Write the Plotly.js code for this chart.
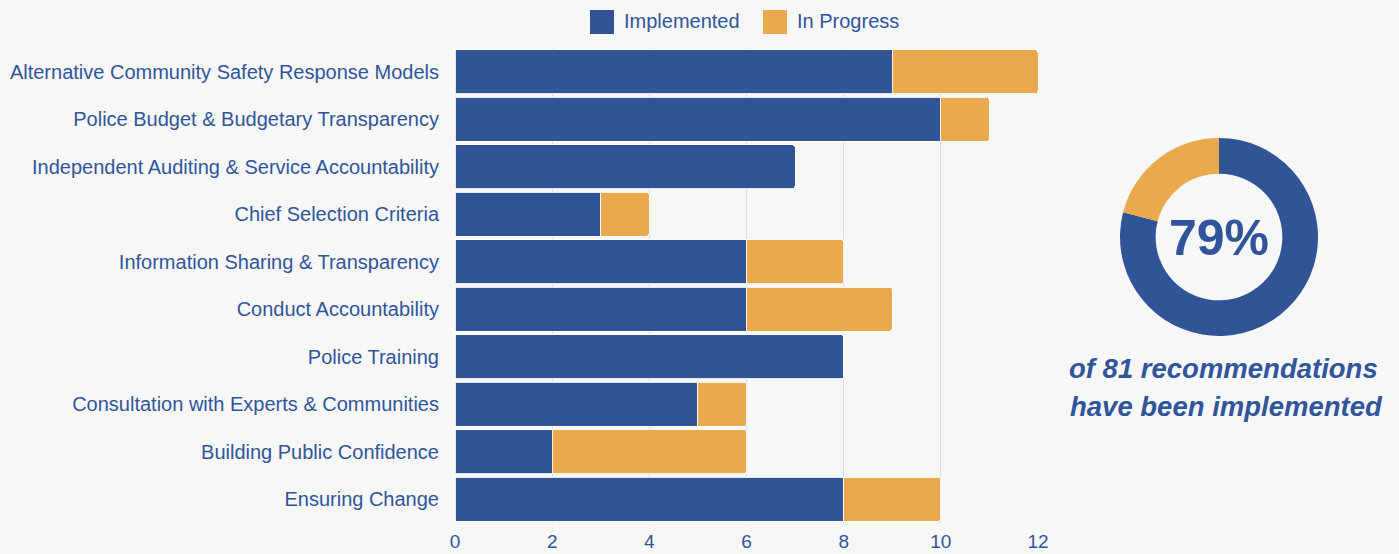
<!DOCTYPE html>
<html>
<head>
<meta charset="utf-8">
<script src="https://cdn.plot.ly/plotly-3.0.1.min.js"></script>
<style>html,body{margin:0;padding:0;background:#f7f7f7;}#chart{width:1399px;height:554px;}</style>
</head>
<body>
<div id="chart"></div>
<script>
const categories = [
  "Alternative Community Safety Response Models",
  "Police Budget & Budgetary Transparency",
  "Independent Auditing & Service Accountability",
  "Chief Selection Criteria",
  "Information Sharing & Transparency",
  "Conduct Accountability",
  "Police Training",
  "Consultation with Experts & Communities",
  "Building Public Confidence",
  "Ensuring Change"
];
const implemented = [9, 10, 7, 3, 6, 6, 8, 5, 2, 8];
const inProgress  = [3, 1, 0, 1, 2, 3, 0, 1, 4, 2];
const xTicks = [0, 2, 4, 6, 8, 10, 12];
const seriesNames = ["Implemented", "In Progress"];

const BLUE = "#305495";
const ORANGE = "#e9a94c";
const TEXT = "#30559a";
const FONT = "Liberation Sans, Arial, sans-serif";

const totalImpl = implemented.reduce((a, b) => a + b, 0);
const totalProg = inProgress.reduce((a, b) => a + b, 0);
const total = totalImpl + totalProg;
const pct = Math.round(100 * totalImpl / total);

const traces = [
  {type: "bar", orientation: "h", name: seriesNames[0], y: categories, x: implemented,
   marker: {color: BLUE, line: {color: "rgba(255,255,255,0.85)", width: 1}}, hoverinfo: "x+name"},
  {type: "bar", orientation: "h", name: seriesNames[1], y: categories, x: inProgress,
   marker: {color: ORANGE, line: {color: "rgba(255,255,255,0.85)", width: 1}}, hoverinfo: "x+name"},
  {type: "pie", values: [totalImpl, totalProg], labels: seriesNames, hole: 0.64,
   sort: false, direction: "clockwise", rotation: 0, textinfo: "none", showlegend: false,
   marker: {colors: [BLUE, ORANGE], line: {width: 0}},
   domain: {x: [1120/1399, 1318/1399], y: [(523-336)/475, (523-138)/475]}}
];

// legend drawn as swatches + labels above the plot (positions in pixels)
const W = 1399, PT = 48, PH = 475;
const px = v => v / W;
const py = v => (PT + PH - v) / PH;
const legendItems = [
  {x0: 590, x1: 614, tx: 622, color: BLUE, label: seriesNames[0]},
  {x0: 763, x1: 787, tx: 795, color: ORANGE, label: seriesNames[1]}
];

const shapes = legendItems.map(it => ({
  type: "rect", xref: "paper", yref: "paper",
  x0: px(it.x0), x1: px(it.x1), y0: py(34), y1: py(10),
  fillcolor: it.color, line: {width: 0}
}));

const annotations = legendItems.map(it => ({
  xref: "paper", yref: "paper", x: px(it.tx), y: py(21), text: it.label,
  showarrow: false, xanchor: "left", yanchor: "middle",
  font: {size: 20, color: TEXT, family: FONT}
}));

annotations.push(
  {xref: "paper", yref: "paper", x: px(1219), y: py(238), text: "<b>" + pct + "%</b>",
   showarrow: false, font: {size: 50, color: TEXT, family: FONT}, xanchor: "center", yanchor: "middle"},
  {xref: "paper", yref: "paper", x: px(1223), y: py(368),
   text: "<b><i>of " + total + " recommendations</i></b>",
   showarrow: false, font: {size: 27.5, color: TEXT, family: FONT}, xanchor: "center", yanchor: "middle"},
  {xref: "paper", yref: "paper", x: px(1226), y: py(406),
   text: "<b><i>have been implemented</i></b>",
   showarrow: false, font: {size: 27.5, color: TEXT, family: FONT}, xanchor: "center", yanchor: "middle"}
);

const layout = {
  width: 1399, height: 554,
  paper_bgcolor: "#f7f7f7", plot_bgcolor: "#f7f7f7",
  margin: {l: 0, r: 0, t: PT, b: 31},
  barmode: "stack", bargap: 0.07, barcornerradius: 3,
  font: {family: FONT, color: TEXT, size: 18},
  showlegend: false,
  xaxis: {domain: [455/1399, 1038/1399], range: [0, 12], tickvals: xTicks, ticktext: xTicks.map(String),
          showgrid: true, gridcolor: "#d9dee9", gridwidth: 1, zeroline: false, showline: false,
          ticks: "outside", ticklen: 1, tickcolor: "rgba(0,0,0,0)",
          tickfont: {size: 19, color: TEXT}, fixedrange: true},
  yaxis: {autorange: "reversed", automargin: false, showgrid: false, zeroline: false, showline: false,
          ticks: "outside", ticklen: 11, tickcolor: "rgba(0,0,0,0)",
          tickfont: {size: 20, color: TEXT}, fixedrange: true},
  shapes: shapes,
  annotations: annotations
};

Plotly.newPlot("chart", traces, layout, {displayModeBar: false});
</script>
</body>
</html>
